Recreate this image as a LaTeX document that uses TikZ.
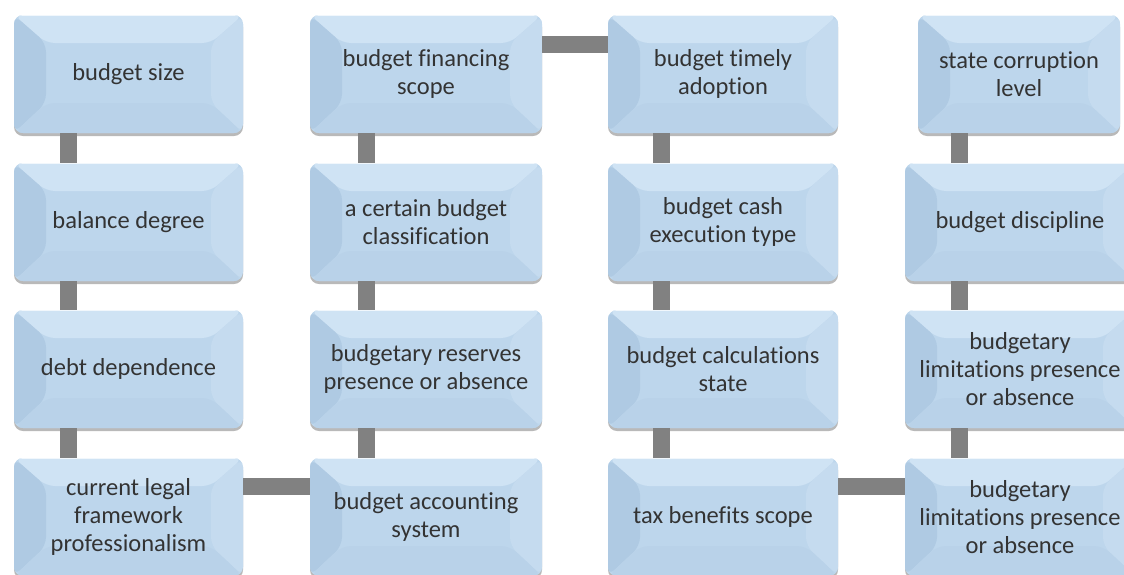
\documentclass[tikz,border=0pt]{standalone}
\usepackage{fontspec}
\setmainfont{Carlito}[Ligatures=NoCommon]
\usetikzlibrary{shadows}
\definecolor{boxface}{HTML}{BDD6EC}
\definecolor{boxtop}{HTML}{CFE3F4}
\definecolor{boxleft}{HTML}{AFCAE3}
\definecolor{boxright}{HTML}{C5DBEF}
\definecolor{boxbottom}{HTML}{B9D2E9}
\definecolor{boxtext}{HTML}{333333}
\definecolor{linkgray}{HTML}{818181}
\begin{document}
\begin{tikzpicture}[x=1pt, y=-1pt,
  box/.style={rectangle, rounded corners=9pt, minimum width=230pt, minimum height=118pt,
    inner sep=0pt, align=center, fill=boxface, text=boxtext,
    font=\fontsize{24.5}{28}\selectfont,
    drop shadow={shadow xshift=0pt, shadow yshift=-3pt, fill=gray!55, opacity=1},
    path picture={
      \fill[boxtop] (path picture bounding box.north west) -- (path picture bounding box.north east)
        -- ([xshift=-32pt,yshift=-28pt]path picture bounding box.north east)
        -- ([xshift=32pt,yshift=-28pt]path picture bounding box.north west) -- cycle;
      \fill[boxleft] (path picture bounding box.north west) -- (path picture bounding box.south west)
        -- ([xshift=32pt,yshift=30pt]path picture bounding box.south west)
        -- ([xshift=32pt,yshift=-28pt]path picture bounding box.north west) -- cycle;
      \fill[boxright] (path picture bounding box.north east) -- (path picture bounding box.south east)
        -- ([xshift=-32pt,yshift=30pt]path picture bounding box.south east)
        -- ([xshift=-32pt,yshift=-28pt]path picture bounding box.north east) -- cycle;
      \fill[boxbottom] (path picture bounding box.south west) -- (path picture bounding box.south east)
        -- ([xshift=-32pt,yshift=30pt]path picture bounding box.south east)
        -- ([xshift=32pt,yshift=30pt]path picture bounding box.south west) -- cycle;
      \draw[white!70!boxtop, line width=2pt] (path picture bounding box.north west) -- (path picture bounding box.north east);
    }},
  link/.style={draw=linkgray, line width=17pt}]
  \useasboundingbox (0,0) rectangle (1124,574);

  % first column
  \node[box, minimum width=229pt] (B11) at (128.5,74) {budget size};
  \node[box, minimum width=229pt] (B21) at (128.5,222) {balance degree};
  \node[box, minimum width=229pt] (B31) at (128.5,369) {debt dependence};
  \node[box, minimum width=229pt] (B41) at (128.5,517) {current legal\\framework\\professionalism};

  % second column
  \node[box, minimum width=232pt] (B12) at (426,74) {budget financing\\scope};
  \node[box, minimum width=232pt] (B22) at (426,222) {a certain budget\\classification};
  \node[box, minimum width=232pt] (B32) at (426,369) {budgetary reserves\\presence or absence};
  \node[box, minimum width=232pt] (B42) at (426,517) {budget accounting\\system};

  % third column
  \node[box] (B13) at (723,74) {budget timely\\adoption};
  \node[box] (B23) at (723,222) {budget cash\\execution type};
  \node[box] (B33) at (723,369) {budget calculations\\state};
  \node[box] (B43) at (723,517) {tax benefits scope};

  % fourth column
  \node[box, minimum width=202pt] (B14) at (1019,74) {state corruption\\level};
  \node[box] (B24) at (1020,222) {budget discipline};
  \node[box] (B34) at (1020,369) {budgetary\\limitations presence\\or absence};
  \node[box] (B44) at (1020,517) {budgetary\\limitations presence\\or absence};

  \draw[link] ([xshift=55pt]B11.south west) -- ([xshift=55pt]B21.north west);
  \draw[link] ([xshift=55pt]B21.south west) -- ([xshift=55pt]B31.north west);
  \draw[link] ([xshift=55pt]B31.south west) -- ([xshift=55pt]B41.north west);
  \draw[link] ([xshift=57pt]B12.south west) -- ([xshift=57pt]B22.north west);
  \draw[link] ([xshift=57pt]B22.south west) -- ([xshift=57pt]B32.north west);
  \draw[link] ([xshift=57pt]B32.south west) -- ([xshift=57pt]B42.north west);
  \draw[link] ([xshift=54pt]B13.south west) -- ([xshift=54pt]B23.north west);
  \draw[link] ([xshift=54pt]B23.south west) -- ([xshift=54pt]B33.north west);
  \draw[link] ([xshift=54pt]B33.south west) -- ([xshift=54pt]B43.north west);
  \draw[link] ([xshift=42pt]B14.south west) -- ([xshift=55pt]B24.north west);
  \draw[link] ([xshift=55pt]B24.south west) -- ([xshift=55pt]B34.north west);
  \draw[link] ([xshift=55pt]B34.south west) -- ([xshift=55pt]B44.north west);

  \draw[link] ([yshift=-30pt]B12.north east) -- ([yshift=-30pt]B13.north west);
  \draw[link] ([yshift=-29pt]B41.north east) -- ([yshift=-29pt]B42.north west);
  \draw[link] ([yshift=-29pt]B43.north east) -- ([yshift=-29pt]B44.north west);
\end{tikzpicture}
\end{document}
